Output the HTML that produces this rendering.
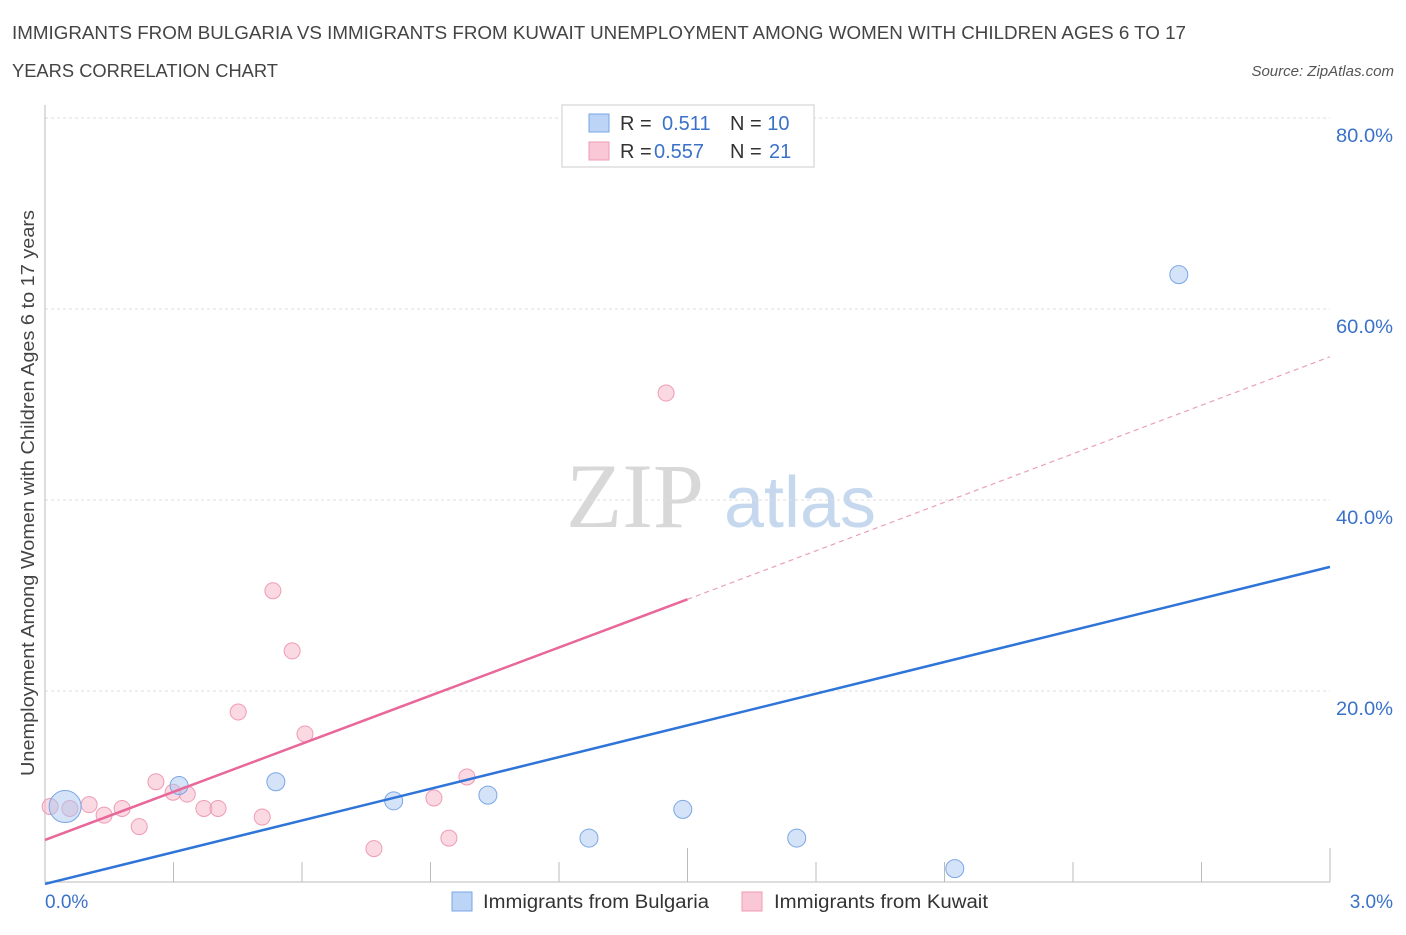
<!DOCTYPE html>
<html><head><meta charset="utf-8"><style>
body{margin:0;background:#fff;font-family:"Liberation Sans",sans-serif;}
</style></head><body>
<svg width="1406" height="930" xmlns="http://www.w3.org/2000/svg" font-family="Liberation Sans, sans-serif">
<text x="12" y="39" font-size="18" fill="#444" textLength="1174" lengthAdjust="spacingAndGlyphs">IMMIGRANTS FROM BULGARIA VS IMMIGRANTS FROM KUWAIT UNEMPLOYMENT AMONG WOMEN WITH CHILDREN AGES 6 TO 17</text>
<text x="12" y="77" font-size="18" fill="#444" textLength="266" lengthAdjust="spacingAndGlyphs">YEARS CORRELATION CHART</text>
<text x="1394" y="76" font-size="15" fill="#555" font-style="italic" text-anchor="end">Source: ZipAtlas.com</text>
<g>
<text x="635" y="527" font-size="92" fill="#d8d8d8" font-family="Liberation Serif, serif" text-anchor="middle">ZIP</text>
<text x="800" y="527" font-size="72" fill="#c5d8ee" text-anchor="middle">atlas</text>
</g>
<g id="grid"></g>
<g id="axes"></g>
<g id="marks"></g>
<text transform="translate(34,493) rotate(-90)" font-size="18" fill="#444" text-anchor="middle" textLength="566" lengthAdjust="spacingAndGlyphs">Unemployment Among Women with Children Ages 6 to 17 years</text>
<g>
<rect x="562" y="105" width="252" height="62" fill="#fff" stroke="#ccc"/>
<rect x="589" y="114" width="20" height="18" fill="#bcd4f6" stroke="#7aa6e6"/>
<rect x="589" y="142" width="20" height="18" fill="#f9c7d6" stroke="#ef9bb5"/>
<text x="620" y="130" font-size="20" fill="#333">R = <tspan fill="#3a72c9" x="662">0.511</tspan><tspan x="730" fill="#333">N = </tspan><tspan fill="#3a72c9">10</tspan></text>
<text x="620" y="158" font-size="20" fill="#333">R = <tspan fill="#3a72c9" x="654">0.557</tspan><tspan x="730" fill="#333">N = </tspan><tspan fill="#3a72c9" x="769">21</tspan></text>
</g>
<g>
<rect x="452" y="892" width="20" height="19" fill="#bcd4f6" stroke="#7aa6e6"/>
<text x="483" y="908" font-size="19" fill="#333" textLength="226" lengthAdjust="spacingAndGlyphs">Immigrants from Bulgaria</text>
<rect x="742" y="892" width="20" height="19" fill="#f9c7d6" stroke="#ef9bb5"/>
<text x="774" y="908" font-size="19" fill="#333" textLength="214" lengthAdjust="spacingAndGlyphs">Immigrants from Kuwait</text>
</g>
</svg>
<script>
const yTicks=[20,40,60,80];
const xTickLabels=["0.0%","3.0%"];
const bulgariaX=[0.047,0.313,0.539,0.814,1.034,1.27,1.489,1.755,2.124,2.647];
const bulgariaY=[7.9,10.1,10.5,8.5,9.1,4.6,7.6,4.6,1.4,63.6];
const bulgariaR=[16,9,9,9,9,9,9,9,9,9];
const kuwaitX=[0.012,0.058,0.103,0.138,0.18,0.22,0.259,0.299,0.332,0.371,0.404,0.451,0.507,0.532,0.577,0.607,0.768,0.908,0.943,0.985,1.45];
const kuwaitY=[7.9,7.7,8.1,7.0,7.7,5.8,10.5,9.4,9.2,7.7,7.7,17.8,6.8,30.5,24.2,15.5,3.5,8.8,4.6,11.0,51.2];
const bulgariaTrend=[0,-0.2,3.0,33.0];
const kuwaitTrend=[0,4.4,1.5,29.6,3.0,55.0];
const NS="http://www.w3.org/2000/svg";
const X=v=>45+v/3*1285, Y=v=>882-v*9.55;
function mk(t,a,p){const e=document.createElementNS(NS,t);for(const k in a)e.setAttribute(k,a[k]);document.getElementById(p).appendChild(e);return e;}
yTicks.forEach(t=>{
 const l=mk('line',{x1:45,x2:1330,y1:Y(t),y2:Y(t),stroke:'#ddd','stroke-dasharray':'3,3'},'grid');
 
 
 const tx=mk('text',{x:1393,y:Y(t)+24,'font-size':19,fill:'#3a72c9','text-anchor':'end',textLength:57,lengthAdjust:'spacingAndGlyphs'},'axes');
 tx.textContent=t.toFixed(1)+'%';
 
 
});
const ax=mk('line',{x1:45,x2:1330,y1:882,y2:882,stroke:'#bbb'},'axes');


const ay=mk('line',{x1:45,x2:45,y1:105,y2:882,stroke:'#bbb'},'axes');


for(let i=0;i<=10;i++){const x=45+i*128.5;const t=mk('line',{x1:x,x2:x,y1:882,y2:i%5==0?848:862,stroke:'#bbb'},'axes');
 
 }
[[xTickLabels[0],45,'start'],[xTickLabels[1],1393,'end']].forEach(d=>{const t=mk('text',{x:d[1],y:908,'font-size':19,fill:'#3a72c9','text-anchor':d[2]},'axes');t.textContent=d[0];
 
 });
kuwaitX.forEach((v,i)=>{const c=mk('circle',{cx:X(v),cy:Y(kuwaitY[i]),r:8,fill:'rgba(246,180,200,0.5)',stroke:'#ef9bb5'},'marks');
 
 });
bulgariaX.forEach((v,i)=>{const c=mk('circle',{cx:X(v),cy:Y(bulgariaY[i]),r:bulgariaR[i],fill:'rgba(170,200,240,0.5)',stroke:'#7aa6e6'},'marks');
 
 });
const bt=mk('line',{x1:X(bulgariaTrend[0]),y1:Y(bulgariaTrend[1]),x2:X(bulgariaTrend[2]),y2:Y(bulgariaTrend[3]),stroke:'#2f74d8','stroke-width':2.5},'marks');


const kt=mk('line',{x1:X(kuwaitTrend[0]),y1:Y(kuwaitTrend[1]),x2:X(kuwaitTrend[2]),y2:Y(kuwaitTrend[3]),stroke:'#e8689a','stroke-width':2.5},'marks');


const kd=mk('line',{x1:X(kuwaitTrend[2]),y1:Y(kuwaitTrend[3]),x2:X(kuwaitTrend[4]),y2:Y(kuwaitTrend[5]),stroke:'#eaa0b8','stroke-width':1.2,'stroke-dasharray':'5,4'},'marks');


</script>
</body></html>
